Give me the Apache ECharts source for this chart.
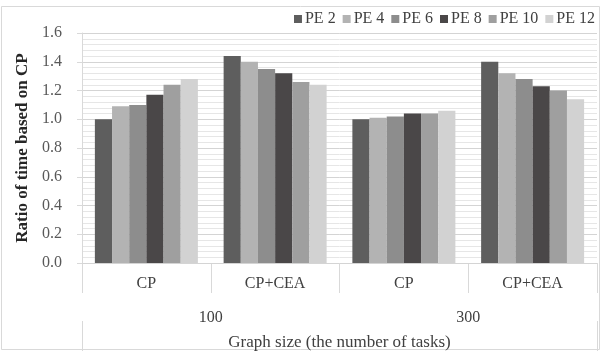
<!DOCTYPE html>
<html>
<head>
<meta charset="utf-8">
<script src="https://cdn.jsdelivr.net/npm/echarts@6/dist/echarts.min.js"></script>
<style>
  html, body { margin: 0; padding: 0; background: #ffffff; }
  #chart { width: 602px; height: 351px; }
</style>
</head>
<body>
<div id="chart"></div>
<script>
// Method per bar group, and the graph size each pair of groups belongs to
const methods = ['CP', 'CP+CEA', 'CP', 'CP+CEA'];
const graphSizes = ['100', '300'];

// Ratio of execution time relative to CP, per number of PEs
const seriesNames = ['PE 2', 'PE 4', 'PE 6', 'PE 8', 'PE 10', 'PE 12'];
const pe2  = [1.00, 1.44, 1.00, 1.40];
const pe4  = [1.09, 1.40, 1.01, 1.32];
const pe6  = [1.10, 1.35, 1.02, 1.28];
const pe8  = [1.17, 1.32, 1.04, 1.23];
const pe10 = [1.24, 1.26, 1.04, 1.20];
const pe12 = [1.28, 1.24, 1.06, 1.14];
const seriesValues = [pe2, pe4, pe6, pe8, pe10, pe12];

// Major ticks every 0.2, minor grid every 0.04
const yTicks = { min: 0, max: 1.6, interval: 0.2, minorInterval: 0.04 };

const colors = ['#5e5e5e', '#b3b3b3', '#8d8d8d', '#4a4748', '#9f9f9f', '#d2d2d2'];
const serif = '"Liberation Serif", "Times New Roman", serif';

const chart = echarts.init(document.getElementById('chart'), null, { renderer: 'canvas' });

const option = {
  backgroundColor: '#ffffff',
  animation: false,
  color: colors,
  textStyle: { fontFamily: serif },
  graphic: [{
    type: 'rect',
    shape: { x: 1.5, y: 6.5, width: 598, height: 343 },
    style: { fill: 'none', stroke: '#d9d9d9', lineWidth: 1 },
    silent: true,
    z: -10
  }],
  legend: {
    right: 2,
    top: 6,
    itemWidth: 8,
    itemHeight: 8,
    itemGap: 7,
    icon: 'rect',
    textStyle: { fontFamily: serif, fontSize: 16, color: '#404040', padding: [0, 0, 0, -2] },
    data: seriesNames
  },
  grid: { left: 82, right: 5, top: 33, bottom: 88, containLabel: false, outerBoundsMode: 'none' },
  xAxis: [
    {
      type: 'category',
      data: methods,
      position: 'bottom',
      axisLine: { show: true, lineStyle: { color: '#d9d9d9', width: 1 } },
      axisTick: { show: true, length: 30, interval: 0, lineStyle: { color: '#d9d9d9' } },
      axisLabel: { fontFamily: serif, fontSize: 16, color: '#404040', margin: 13, interval: 0 },
      name: 'Graph size (the number of tasks)',
      nameLocation: 'middle',
      nameGap: 71,
      nameTextStyle: { fontFamily: serif, fontSize: 17, color: '#404040' }
    },
    {
      type: 'category',
      data: graphSizes,
      position: 'bottom',
      offset: 30,
      axisLine: { show: false },
      axisTick: { show: true, length: 28, interval: 0, lineStyle: { color: '#d9d9d9' } },
      axisLabel: { fontFamily: serif, fontSize: 16, color: '#404040', margin: 17, interval: 0 },
      splitLine: { show: false }
    },
    {
      type: 'category',
      data: [''],
      position: 'bottom',
      offset: 58,
      axisLine: { show: false },
      axisTick: { show: true, length: 30, interval: 0, lineStyle: { color: '#d9d9d9' } },
      axisLabel: { show: false },
      splitLine: { show: false }
    }
  ],
  yAxis: [
    {
      type: 'value',
      min: yTicks.min,
      max: yTicks.max,
      interval: yTicks.interval,
      name: 'Ratio of time based on CP',
      nameLocation: 'middle',
      nameGap: 45,
      nameRotate: 90,
      nameTextStyle: { fontFamily: serif, fontSize: 17, fontWeight: 'bold', color: '#262626' },
      axisLine: { show: true, lineStyle: { color: '#d9d9d9' } },
      axisTick: { show: true, length: 5, lineStyle: { color: '#d9d9d9' } },
      axisLabel: {
        fontFamily: serif, fontSize: 16, color: '#595959', margin: 20,
        formatter: v => v.toFixed(1)
      },
      splitLine: { show: true, lineStyle: { color: '#d4d4d4', width: 1 } },
      z: 2
    },
    {
      // minor grid lines only
      type: 'value',
      min: yTicks.min,
      max: yTicks.max,
      interval: yTicks.minorInterval,
      position: 'left',
      axisLine: { show: false },
      axisTick: { show: false },
      axisLabel: { show: false },
      splitLine: { show: true, lineStyle: { color: '#e6e6e6', width: 1 } },
      z: 1
    }
  ],
  series: seriesNames.map((name, i) => ({
    name: name,
    type: 'bar',
    xAxisIndex: 0,
    yAxisIndex: 0,
    data: seriesValues[i],
    barGap: '0%',
    barCategoryGap: '20%',
    itemStyle: { color: colors[i] }
  }))
};

chart.setOption(option);
</script>
</body>
</html>
